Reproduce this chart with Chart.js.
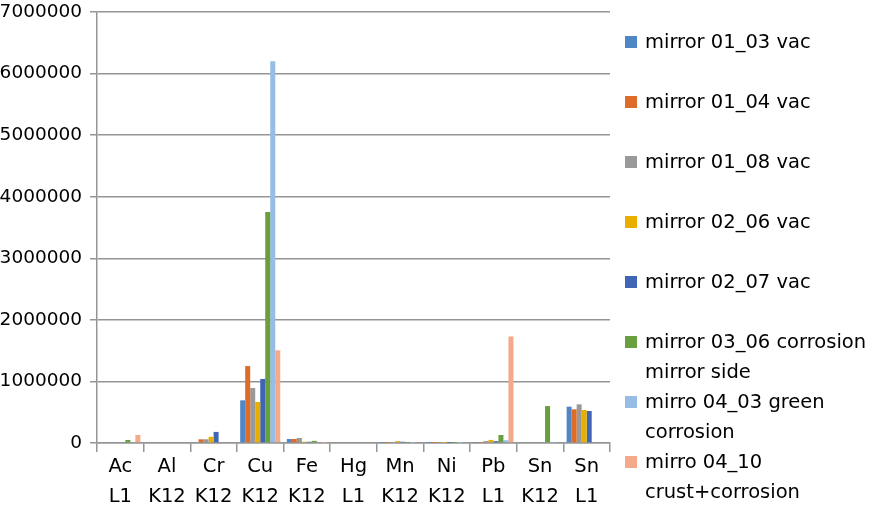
<!DOCTYPE html>
<html>
<head>
<meta charset="utf-8">
<script src="https://cdn.jsdelivr.net/npm/chart.js@4.4.1/dist/chart.umd.min.js"></script>
<style>
  html, body { margin: 0; padding: 0; background: #ffffff; }
  #wrap { position: relative; width: 873px; height: 516px; }
  #c { position: absolute; left: 0; top: 0; }
  .leg { position: absolute; left: 625px; font-family: "DejaVu Sans", sans-serif; font-size: 19.5px; color: #000; line-height: 30px; }
  .leg .box { position: absolute; left: 0; top: 9px; width: 12px; height: 12px; }
  .leg .txt { position: absolute; left: 20px; top: 0; white-space: nowrap; }
</style>
</head>
<body>
<div id="wrap">
  <canvas id="c" width="873" height="516"></canvas>
</div>
<script>
// ---- data ----
const categories = [["Ac","L1"],["Al","K12"],["Cr","K12"],["Cu","K12"],["Fe","K12"],["Hg","L1"],["Mn","K12"],["Ni","K12"],["Pb","L1"],["Sn","K12"],["Sn","L1"]];
const seriesNames = [
  ["mirror 01_03 vac"],
  ["mirror 01_04 vac"],
  ["mirror 01_08 vac"],
  ["mirror 02_06 vac"],
  ["mirror 02_07 vac"],
  ["mirror 03_06 corrosion", "mirror side"],
  ["mirro 04_03 green", "corrosion"],
  ["mirro 04_10", "crust+corrosion"]
];
const s0103 = [0, 0, 15000, 693000, 65000, 0, 3000, 2000, 5000, 0, 590000];
const s0104 = [0, 0, 60000, 1250000, 65000, 0, 5000, 2000, 5000, 0, 547000];
const s0108 = [0, 0, 60000, 893000, 81000, 0, 8000, 2000, 30000, 0, 628000];
const s0206 = [0, 0, 100000, 666000, 20000, 0, 30000, 3000, 50000, 0, 536000];
const s0207 = [0, 0, 180000, 1040000, 20000, 0, 20000, 2000, 30000, 0, 520000];
const s0306 = [49000, 0, 0, 3750000, 35000, 0, 3000, 2000, 130000, 600000, 0];
const s0403 = [15000, 0, 0, 6200000, 10000, 0, 3000, 2000, 45000, 5000, 0];
const s0410 = [130000, 0, 0, 1505000, 3000, 0, 0, 0, 1730000, 0, 0];
const yTicks = [0, 1000000, 2000000, 3000000, 4000000, 5000000, 6000000, 7000000];
const colors = ['#4F86C6', '#DE6C28', '#999999', '#E8AE00', '#3E66B4', '#68A040', '#97BCE5', '#F3A98A'];

const seriesValues = [s0103, s0104, s0108, s0206, s0207, s0306, s0403, s0410];

const datasets = seriesValues.map((vals, i) => ({
  label: seriesNames[i].join(' '),
  data: vals,
  backgroundColor: colors[i],
  borderWidth: 0,
  categoryPercentage: 0.86,
  barPercentage: 1.0
}));

const fontFam = '"DejaVu Sans", sans-serif';

new Chart(document.getElementById('c'), {
  type: 'bar',
  data: { labels: categories, datasets: datasets },
  options: {
    responsive: false,
    animation: false,
    devicePixelRatio: 1,
    layout: { padding: { top: 12, right: 263, left: 0, bottom: 0 } },
    plugins: { legend: { display: false }, tooltip: { enabled: false } },
    scales: {
      x: {
        offset: true,
        grid: { display: true, drawOnChartArea: false, drawTicks: true, tickLength: 9, offset: true, color: '#959595', lineWidth: 1.5 },
        border: { display: true, color: '#959595', width: 1.5 },
        ticks: { color: '#000', padding: 0, maxRotation: 0, autoSkip: false, font: { family: fontFam, size: 19.5, lineHeight: '30px' } },
        afterFit: (s) => { s.height = 73; s.paddingLeft = 0; s.paddingRight = 0; }
      },
      y: {
        min: 0, max: 7000000,
        afterBuildTicks: (s) => { s.ticks = yTicks.map(v => ({ value: v })); },
        grid: { color: '#959595', lineWidth: 1.5, tickLength: 7 },
        border: { display: true, color: '#959595', width: 1.5 },
        ticks: { color: '#000', padding: 8, font: { family: fontFam, size: 18.5 }, callback: (v) => String(v) },
        afterFit: (s) => { s.width = 97; s.paddingTop = 0; s.paddingBottom = 0; }
      }
    }
  }
});

// HTML legend
const wrap = document.getElementById('wrap');
seriesNames.forEach((lines, i) => {
  const d = document.createElement('div');
  d.className = 'leg';
  d.style.top = (27 + 60 * i) + 'px';
  const b = document.createElement('div');
  b.className = 'box';
  b.style.background = colors[i];
  d.appendChild(b);
  const t = document.createElement('div');
  t.className = 'txt';
  t.innerHTML = lines.join('<br>');
  d.appendChild(t);
  wrap.appendChild(d);
});
</script>
</body>
</html>
